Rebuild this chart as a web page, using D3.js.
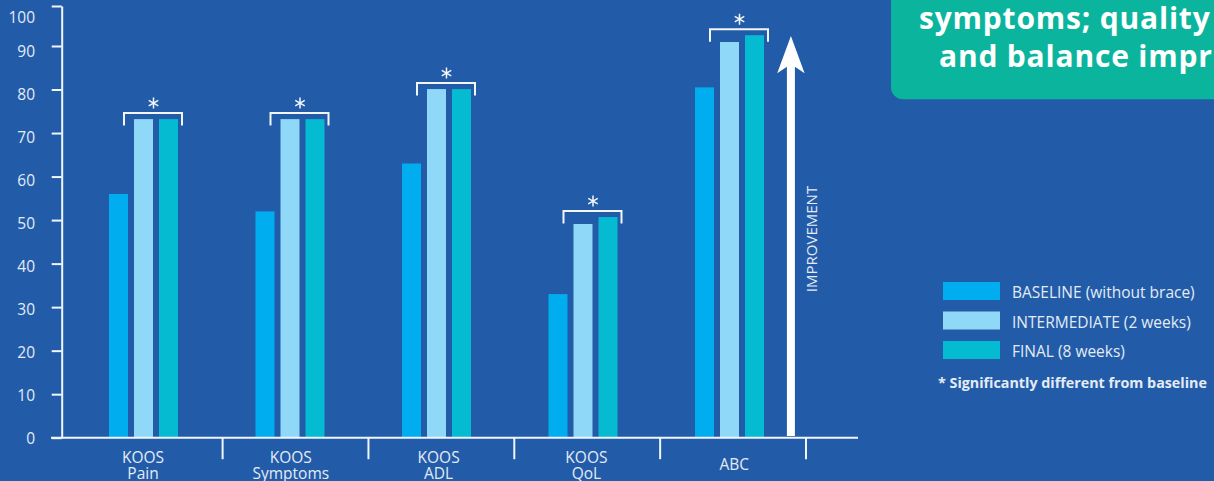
<!DOCTYPE html>
<html>
<head>
<meta charset="utf-8">
<script src="https://cdn.jsdelivr.net/npm/d3@7"></script>
<style>
  html, body { margin: 0; padding: 0; background: #225ca9; overflow: hidden; }
  svg { display: block; }
  text { font-family: "Open Sans", "Noto Sans", sans-serif; }
</style>
</head>
<body>
<svg id="chart" width="1214" height="481"></svg>
<script>
// ---- data ----
const categories = ["KOOS\nPain", "KOOS\nSymptoms", "KOOS\nADL", "KOOS\nQoL", "ABC"];
const seriesNames = ["BASELINE (without brace)", "INTERMEDIATE (2 weeks)", "FINAL (8 weeks)"];
const baseline = [56, 52, 63, 33, 80.5];
const intermediate = [73.2, 73.2, 80.1, 49.1, 91];
const finalWeeks = [73.2, 73.2, 80.1, 50.7, 92.7];
const significant = [true, true, true, true, true];
const yTicks = [0, 10, 20, 30, 40, 50, 60, 70, 80, 90, 100];
const titleLines = ["symptoms; quality", "and balance impr"];
const footnote = "* Significantly different from baseline";
const arrowLabel = "IMPROVEMENT";

const seriesValues = [baseline, intermediate, finalWeeks];
const colors = ["#00adef", "#8fd8f8", "#05bbd2"];

const svg = d3.select("#chart");
svg.append("rect").attr("width", 1214).attr("height", 481).attr("fill", "#225ca9");

// ---- scales ----
const y = d3.scaleLinear().domain([0, 90, 100]).range([437.7, 46, 6]);
const labelY = d3.scaleLinear().domain([0, 90, 100]).range([438, 51.5, 16.7]);
const x = d3.scaleBand().domain(categories).range([70.25, 70.25 + 146.5 * categories.length]).padding(0);
const xs = d3.scaleBand().domain(seriesNames).range([-34.5, 34.5]).paddingInner(0.24).paddingOuter(0);
const xLabel = d3.scalePoint().domain(categories).range([143, 734.2]);
const xSep = d3.scalePoint().domain(categories).range([222.6, 806]);
const center = c => x(c) + x.bandwidth() / 2;

const axisColor = "#f2f5fa";
const textColor = "#e4ebf5";

// ---- y axis ----
const gy = svg.append("g").attr("transform", "translate(61.7,0)")
  .call(d3.axisLeft(y).tickValues(yTicks).tickSize(10).tickSizeOuter(0).tickPadding(16.7));
gy.select(".domain").attr("stroke", axisColor).attr("stroke-width", 2);
gy.selectAll(".tick line").attr("stroke", axisColor).attr("stroke-width", 2);
gy.selectAll(".tick text")
  .attr("fill", textColor)
  .attr("font-size", 15.5)
  .attr("font-family", "'Open Sans', sans-serif")
  .attr("y", d => labelY(d) - y(d) + 0.5);

// ---- bars ----
const groups = svg.append("g").selectAll("g.grp").data(categories).join("g")
  .attr("class", "grp")
  .attr("transform", c => `translate(${center(c)},0)`);

groups.each(function(c, ci) {
  const g = d3.select(this);
  seriesNames.forEach((s, si) => {
    const v = seriesValues[si][ci];
    g.append("rect")
      .attr("x", xs(s))
      .attr("width", xs.bandwidth())
      .attr("y", y(v))
      .attr("height", y(0) - y(v))
      .attr("fill", colors[si]);
  });
  if (significant[ci]) {
    const top = y(Math.max(intermediate[ci], finalWeeks[ci])) - 6;
    const x0 = xs(seriesNames[1]) - 10;
    const x1 = xs(seriesNames[2]) + xs.bandwidth() + 4;
    g.append("path")
      .attr("d", `M${x0},${top + 12.5}V${top}H${x1}V${top + 12.5}`)
      .attr("fill", "none").attr("stroke", axisColor).attr("stroke-width", 2);
    const sx = (x0 + x1) / 2 + 0.5, sy = top - 10, r = 5.5;
    const star = d3.path();
    [90, 30, 150].forEach(a => {
      const rad = a * Math.PI / 180;
      star.moveTo(sx - r * Math.cos(rad), sy - r * Math.sin(rad));
      star.lineTo(sx + r * Math.cos(rad), sy + r * Math.sin(rad));
    });
    g.append("path").attr("d", star.toString())
      .attr("stroke", axisColor).attr("stroke-width", 1.5).attr("fill", "none");
  }
});

// ---- x axis ----
svg.append("line")
  .attr("x1", 51).attr("x2", 858).attr("y1", y(0)).attr("y2", y(0))
  .attr("stroke", axisColor).attr("stroke-width", 2);
svg.append("g").selectAll("line").data(categories).join("line")
  .attr("x1", c => xSep(c)).attr("x2", c => xSep(c))
  .attr("y1", y(0)).attr("y2", y(0) + 21.5)
  .attr("stroke", axisColor).attr("stroke-width", 2);

const labels = svg.append("g").selectAll("text").data(categories).join("text")
  .attr("text-anchor", "middle")
  .attr("fill", textColor)
  .attr("font-size", 15.5);
labels.each(function(c) {
  const lines = c.split("\n");
  const t = d3.select(this);
  const startY = lines.length === 1 ? 470 : 462.7;
  lines.forEach((ln, i) => {
    t.append("tspan").attr("x", xLabel(c)).attr("y", startY + i * 16).text(ln);
  });
});

// ---- improvement arrow ----
const ax = center(categories[4]) + 61.4;
const arrow = d3.path();
arrow.moveTo(ax - 13.7, 73.3);
arrow.lineTo(ax, 36);
arrow.lineTo(ax + 13.7, 73.3);
arrow.lineTo(ax + 4, 66.7);
arrow.lineTo(ax + 4, y(0) - 1.7);
arrow.lineTo(ax - 4, y(0) - 1.7);
arrow.lineTo(ax - 4, 66.7);
arrow.closePath();
svg.append("path").attr("d", arrow.toString()).attr("fill", "#ffffff");
svg.append("text")
  .attr("transform", `translate(${ax + 20.5},239) rotate(-90)`)
  .attr("text-anchor", "middle")
  .attr("dominant-baseline", "central")
  .attr("fill", textColor)
  .attr("font-size", 15)
  .text(arrowLabel);

// ---- title box ----
svg.append("rect")
  .attr("x", 891).attr("y", -20).attr("width", 400).attr("height", 119.3)
  .attr("rx", 12).attr("fill", "#0bb59d");
svg.append("g").selectAll("text").data(titleLines).join("text")
  .attr("x", (d, i) => i === 0 ? 919 : 939)
  .attr("y", (d, i) => 28.5 + i * 38.5)
  .attr("fill", "#ffffff")
  .attr("font-size", 30)
  .attr("letter-spacing", 0.8)
  .attr("font-weight", 700)
  .text(d => d);

// ---- legend ----
const legend = svg.append("g").selectAll("g").data(seriesNames).join("g")
  .attr("transform", (d, i) => `translate(943,${282 + i * 29.5})`);
legend.append("rect").attr("width", 57).attr("height", 18).attr("fill", (d, i) => colors[i]);
legend.append("text")
  .attr("x", 69).attr("y", 10)
  .attr("dominant-baseline", "central")
  .attr("fill", textColor)
  .attr("font-size", 15.5)
  .text(d => d);
svg.append("text")
  .attr("x", 938).attr("y", 382)
  .attr("dominant-baseline", "central")
  .attr("fill", textColor)
  .attr("font-size", 14.3)
  .attr("font-weight", 700)
  .text(footnote);
</script>
</body>
</html>
